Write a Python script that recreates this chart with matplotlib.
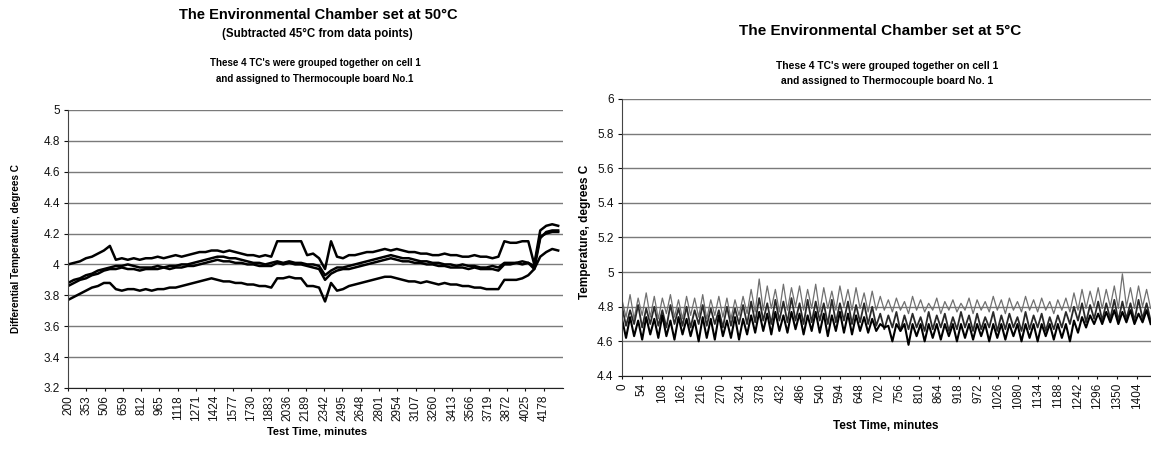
import numpy as np
import matplotlib
matplotlib.use("Agg")
import matplotlib.pyplot as plt

plt.rcParams['font.family'] = ['Liberation Sans', 'DejaVu Sans']

# ---- 50 C run, 4 thermocouples on cell 1 (45 C subtracted) ----
hot_minutes = np.arange(200, 4301, 50)
hot_tick_labels = [200, 353, 506, 659, 812, 965, 1118, 1271, 1424, 1577, 1730, 1883, 2036,
                   2189, 2342, 2495, 2648, 2801, 2954, 3107, 3260, 3413, 3566, 3719, 3872,
                   4025, 4178]

hot_tc1 = [4.00, 4.01, 4.02, 4.04, 4.05, 4.07, 4.09, 4.12, 4.03, 4.04, 4.03, 4.04, 4.03,
           4.04, 4.04, 4.05, 4.04, 4.05, 4.06, 4.05, 4.06, 4.07, 4.08, 4.08, 4.09, 4.09,
           4.08, 4.09, 4.08, 4.07, 4.06, 4.06, 4.05, 4.06, 4.05, 4.15, 4.15, 4.15, 4.15,
           4.15, 4.06, 4.07, 4.04, 3.97, 4.15, 4.05, 4.04, 4.06, 4.06, 4.07, 4.08, 4.08,
           4.09, 4.10, 4.09, 4.10, 4.09, 4.08, 4.08, 4.07, 4.07, 4.06, 4.06, 4.07, 4.06,
           4.06, 4.05, 4.05, 4.06, 4.05, 4.05, 4.04, 4.05, 4.15, 4.14, 4.14, 4.15, 4.15,
           4.00, 4.22, 4.25, 4.26, 4.25]
hot_tc2 = [3.88, 3.90, 3.91, 3.93, 3.94, 3.96, 3.97, 3.98, 3.99, 3.99, 4.00, 3.99, 3.98,
           3.98, 3.98, 3.99, 3.98, 3.99, 3.99, 4.00, 4.00, 4.01, 4.02, 4.03, 4.04, 4.05,
           4.05, 4.04, 4.04, 4.03, 4.02, 4.01, 4.01, 4.00, 4.01, 4.02, 4.01, 4.02, 4.01,
           4.01, 4.00, 4.00, 3.99, 3.93, 3.96, 3.98, 3.98, 3.99, 4.00, 4.01, 4.02, 4.03,
           4.04, 4.05, 4.06, 4.05, 4.04, 4.04, 4.03, 4.02, 4.02, 4.01, 4.01, 4.00, 4.00,
           3.99, 4.00, 3.99, 3.99, 3.98, 3.98, 3.99, 3.98, 4.01, 4.01, 4.01, 4.02, 4.01,
           3.99, 4.18, 4.20, 4.21, 4.21]
hot_tc3 = [3.86, 3.88, 3.90, 3.91, 3.93, 3.94, 3.96, 3.97, 3.97, 3.98, 3.97, 3.97, 3.96,
           3.97, 3.97, 3.97, 3.98, 3.97, 3.98, 3.98, 3.99, 3.99, 4.00, 4.01, 4.02, 4.03,
           4.02, 4.02, 4.01, 4.01, 4.00, 4.00, 3.99, 3.99, 3.99, 4.01, 4.00, 4.01, 4.00,
           4.00, 3.99, 3.98, 3.97, 3.90, 3.94, 3.96, 3.97, 3.97, 3.98, 3.99, 4.00, 4.01,
           4.02, 4.03, 4.04, 4.03, 4.02, 4.02, 4.01, 4.01, 4.00, 4.00, 3.99, 3.99, 3.98,
           3.98, 3.98, 3.97, 3.98, 3.97, 3.97, 3.97, 3.96, 4.00, 4.00, 4.01, 4.00, 4.01,
           3.97, 4.17, 4.21, 4.22, 4.22]
hot_tc4 = [3.77, 3.79, 3.81, 3.83, 3.85, 3.86, 3.88, 3.88, 3.84, 3.83, 3.84, 3.84, 3.83,
           3.84, 3.83, 3.84, 3.84, 3.85, 3.85, 3.86, 3.87, 3.88, 3.89, 3.90, 3.91, 3.90,
           3.89, 3.89, 3.88, 3.88, 3.87, 3.87, 3.86, 3.86, 3.85, 3.91, 3.91, 3.92, 3.91,
           3.91, 3.86, 3.86, 3.85, 3.76, 3.88, 3.83, 3.84, 3.86, 3.87, 3.88, 3.89, 3.90,
           3.91, 3.92, 3.92, 3.91, 3.90, 3.89, 3.89, 3.88, 3.89, 3.88, 3.87, 3.88, 3.87,
           3.87, 3.86, 3.86, 3.85, 3.85, 3.84, 3.84, 3.84, 3.90, 3.90, 3.90, 3.91, 3.93,
           3.97, 4.05, 4.08, 4.10, 4.09]

# ---- 5 C run ----
cold_minutes = np.arange(0, 1442, 11)
cold_tick_labels = [0, 54, 108, 162, 216, 270, 324, 378, 432, 486, 540, 594, 648, 702, 756,
                    810, 864, 918, 972, 1026, 1080, 1134, 1188, 1242, 1296, 1350, 1404]

cold_upper = [4.84, 4.74, 4.87, 4.73, 4.85, 4.75, 4.88, 4.74, 4.86, 4.73, 4.85, 4.76, 4.87, 4.74, 4.84, 4.73,
              4.86, 4.75, 4.85, 4.74, 4.87, 4.73, 4.84, 4.75, 4.86, 4.74, 4.85, 4.73, 4.84, 4.75, 4.86, 4.76,
              4.90, 4.77, 4.96, 4.78, 4.92, 4.79, 4.90, 4.77, 4.93, 4.78, 4.91, 4.80, 4.92, 4.78, 4.90, 4.79,
              4.93, 4.77, 4.91, 4.79, 4.89, 4.78, 4.92, 4.80, 4.90, 4.78, 4.91, 4.79, 4.88, 4.77, 4.89, 4.78,
              4.86, 4.78, 4.84, 4.77, 4.85, 4.78, 4.83, 4.76, 4.86, 4.78, 4.84, 4.77, 4.82, 4.78, 4.85, 4.76,
              4.83, 4.78, 4.84, 4.77, 4.82, 4.78, 4.85, 4.76, 4.84, 4.78, 4.83, 4.77, 4.86, 4.78, 4.84, 4.76,
              4.85, 4.78, 4.83, 4.77, 4.86, 4.78, 4.84, 4.77, 4.85, 4.78, 4.83, 4.76, 4.84, 4.78, 4.85, 4.77,
              4.88, 4.78, 4.90, 4.79, 4.89, 4.80, 4.91, 4.79, 4.90, 4.80, 4.92, 4.79, 4.99, 4.80, 4.91, 4.79,
              4.92, 4.80, 4.90, 4.79]
cold_middle = [4.80, 4.69, 4.78, 4.70, 4.81, 4.68, 4.79, 4.70, 4.80, 4.69, 4.78, 4.68, 4.81, 4.70, 4.79, 4.69,
               4.80, 4.68, 4.78, 4.70, 4.81, 4.69, 4.79, 4.70, 4.78, 4.68, 4.80, 4.69, 4.79, 4.70, 4.81, 4.70,
               4.83, 4.71, 4.85, 4.72, 4.82, 4.70, 4.84, 4.72, 4.83, 4.71, 4.85, 4.72, 4.82, 4.70, 4.84, 4.71,
               4.83, 4.72, 4.82, 4.70, 4.84, 4.71, 4.82, 4.72, 4.83, 4.70, 4.81, 4.71, 4.82, 4.70, 4.80, 4.69,
               4.76, 4.67, 4.75, 4.68, 4.77, 4.66, 4.75, 4.67, 4.76, 4.68, 4.74, 4.66, 4.77, 4.67, 4.75, 4.68,
               4.76, 4.66, 4.74, 4.67, 4.77, 4.68, 4.75, 4.66, 4.76, 4.67, 4.74, 4.68, 4.77, 4.66, 4.75, 4.67,
               4.76, 4.68, 4.74, 4.66, 4.77, 4.67, 4.75, 4.68, 4.76, 4.66, 4.74, 4.67, 4.75, 4.68, 4.77, 4.70,
               4.80, 4.72, 4.82, 4.71, 4.81, 4.73, 4.83, 4.72, 4.82, 4.73, 4.84, 4.72, 4.83, 4.73, 4.82, 4.72,
               4.84, 4.73, 4.82, 4.72]
cold_lower = [4.73, 4.62, 4.74, 4.63, 4.72, 4.61, 4.74, 4.64, 4.73, 4.62, 4.75, 4.63, 4.72, 4.61, 4.74, 4.64,
              4.73, 4.63, 4.72, 4.60, 4.74, 4.62, 4.73, 4.61, 4.75, 4.63, 4.72, 4.62, 4.74, 4.61, 4.73, 4.64,
              4.75, 4.65, 4.77, 4.66, 4.76, 4.64, 4.77, 4.66, 4.75, 4.65, 4.77, 4.67, 4.76, 4.64, 4.75, 4.66,
              4.77, 4.65, 4.76, 4.63, 4.75, 4.66, 4.77, 4.65, 4.76, 4.64, 4.75, 4.66, 4.74, 4.65, 4.73, 4.66,
              4.70, 4.68, 4.69, 4.60, 4.70, 4.66, 4.70, 4.58, 4.70, 4.63, 4.70, 4.60, 4.70, 4.62, 4.70, 4.61,
              4.70, 4.63, 4.70, 4.60, 4.70, 4.62, 4.70, 4.61, 4.70, 4.63, 4.70, 4.60, 4.70, 4.62, 4.70, 4.61,
              4.70, 4.63, 4.70, 4.60, 4.70, 4.62, 4.70, 4.60, 4.70, 4.63, 4.70, 4.61, 4.70, 4.62, 4.70, 4.60,
              4.72, 4.65, 4.74, 4.68, 4.75, 4.70, 4.76, 4.70, 4.77, 4.71, 4.78, 4.70, 4.77, 4.71, 4.78, 4.70,
              4.76, 4.71, 4.78, 4.70]


def style_axes(ax, ymin, ymax, xmin, xmax, xticks):
    """Excel-like look: grey horizontal gridlines, left/bottom spines, vertical tick labels."""
    ax.set_xlim(xmin, xmax)
    ax.set_ylim(ymin, ymax)
    yt = np.round(np.arange(ymin, ymax + 0.01, 0.2), 1)
    ax.set_yticks(yt)
    ax.set_yticklabels([f"{v:g}" for v in yt], fontsize=8.5)
    ax.set_xticks(xticks)
    ax.set_xticklabels([str(t) for t in xticks], rotation=90, fontsize=8.5)
    ax.yaxis.grid(True, color="#7a7a7a", linewidth=1.0)
    ax.set_axisbelow(True)
    for side in ("top", "right"):
        ax.spines[side].set_visible(False)
    ax.spines["left"].set_color("#444444")
    ax.spines["bottom"].set_color("#222222")
    ax.tick_params(axis="y", length=3, pad=3, colors="#111111")
    ax.tick_params(axis="x", length=2, pad=3, colors="#111111")


fig = plt.figure(figsize=(11.51, 4.49), dpi=100)

# left chart
ax1 = fig.add_axes([0.0591, 0.1359, 0.4300, 0.6192])
for series in (hot_tc1, hot_tc2, hot_tc3, hot_tc4):
    ax1.plot(hot_minutes, series, color="black", linewidth=1.8)
style_axes(ax1, 3.2, 5.0, 200, 4340, hot_tick_labels)
ax1.set_xlabel("Test Time, minutes", fontsize=8, fontweight="bold")
ax1.xaxis.set_label_coords(0.503, -0.140)
ax1.set_ylabel("Differential Temperature, degrees C", fontsize=7.2, fontweight="bold")
ax1.yaxis.set_label_coords(-0.096, 0.5)

# right chart
ax2 = fig.add_axes([0.5404, 0.1626, 0.4596, 0.6170])
ax2.plot(cold_minutes, cold_upper, color="#707070", linewidth=0.9)
ax2.plot(cold_minutes, cold_middle, color="#2a2a2a", linewidth=1.3)
ax2.plot(cold_minutes, cold_lower, color="black", linewidth=1.5)
style_axes(ax2, 4.4, 6.0, 0, 1442, cold_tick_labels)
ax2.set_xlabel("Test Time, minutes", fontsize=8.5, fontweight="bold")
ax2.xaxis.set_label_coords(0.499, -0.160)
ax2.set_ylabel("Temperature, degrees C", fontsize=8.5, fontweight="bold")
ax2.yaxis.set_label_coords(-0.0595, 0.52)

# titles
fig.text(0.2763, 1 - 15 / 449, "The Environmental Chamber set at 50°C",
         ha="center", va="center", fontsize=10.5, fontweight="bold")
fig.text(0.2754, 1 - 34 / 449, "(Subtracted 45°C from data points)",
         ha="center", va="center", fontsize=8.3, fontweight="bold")
fig.text(0.2737, 1 - 63 / 449, "These 4 TC's were grouped together on cell 1",
         ha="center", va="center", fontsize=7, fontweight="bold")
fig.text(0.2737, 1 - 79 / 449, "and assigned to Thermocouple board No.1",
         ha="center", va="center", fontsize=7, fontweight="bold")

fig.text(880 / 1151, 1 - 31 / 449, "The Environmental Chamber set at 5°C",
         ha="center", va="center", fontsize=11, fontweight="bold")
fig.text(887 / 1151, 1 - 66 / 449, "These 4 TC's were grouped together on cell 1",
         ha="center", va="center", fontsize=7.4, fontweight="bold")
fig.text(887 / 1151, 1 - 81 / 449, "and assigned to Thermocouple board No. 1",
         ha="center", va="center", fontsize=7.4, fontweight="bold")

fig.savefig("out.png", dpi=100)
